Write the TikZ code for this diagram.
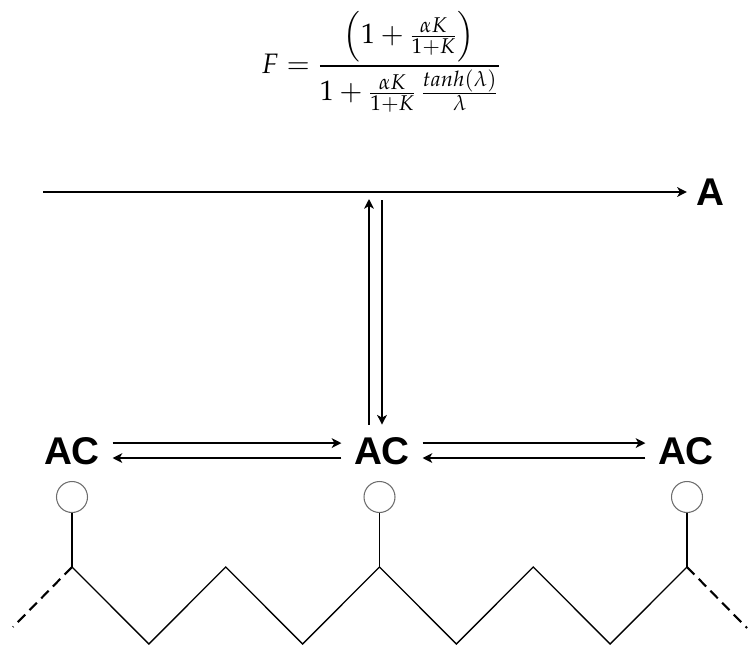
\documentclass[tikz,border=0pt]{standalone}
\usepackage{mathpazo}
\usepackage[no-math]{fontspec}
\newfontfamily\labelfont{Liberation Sans}
\usetikzlibrary{arrows.meta}

\begin{document}
\begin{tikzpicture}[x=0.02cm, y=-0.02cm,
    lbl/.style={font=\labelfont\bfseries\fontsize{22}{26}\selectfont, inner xsep=7pt, inner ysep=7pt},
    arr/.style={line width=1.1pt, -{Stealth[length=5.5pt, width=5.5pt, inset=1.5pt]}},
    site/.style={circle, draw=gray!85!black, line width=0.6pt, minimum size=0.62cm, inner sep=0pt},
    chain/.style={line width=0.75pt},
    tail/.style={line width=1.2pt, dash pattern=on 6pt off 3.5pt}
]
    \useasboundingbox (0,0) rectangle (748,646);

    % Enhancement factor
    \node[font=\fontsize{16}{19}\selectfont, inner sep=0pt] (eq) at (381,62)
        {$\displaystyle F = \frac{\left(1+\frac{\alpha K}{1+K}\right)}{1+\frac{\alpha K}{1+K}\,\frac{tanh(\lambda)}{\lambda}}$};

    % Bulk species and feed line
    \node[lbl, inner xsep=5pt] (a) at (710,192) {A};
    \coordinate (feed) at (43,192);
    \draw[arr] (feed) -- (a.west);

    % Adsorbed species
    \node[lbl] (ac1) at (72,451) {AC};
    \node[lbl] (ac2) at (382,451) {AC};
    \node[lbl] (ac3) at (686,451) {AC};

    % Adsorption / desorption
    \coordinate (up) at (369,199);
    \coordinate (dn) at (382,200);
    \draw[arr] (ac2.north -| up) -- (up);
    \draw[arr] (dn) -- (dn |- ac2.north);

    % Surface hopping
    \draw[arr] ([yshift=4.5pt]ac1.east) -- ([yshift=4.5pt]ac2.west);
    \draw[arr] ([yshift=-4pt]ac2.west) -- ([yshift=-4pt]ac1.east);
    \draw[arr] ([yshift=4.5pt]ac2.east) -- ([yshift=4.5pt]ac3.west);
    \draw[arr] ([yshift=-4pt]ac3.west) -- ([yshift=-4pt]ac2.east);

    % Sites
    \node[site] (s1) at (72,497) {};
    \node[site] (s2) at (379.5,497) {};
    \node[site] (s3) at (687,497) {};

    % Chain backbone
    \foreach \i in {0,...,8} {
        \pgfmathsetmacro\yy{mod(\i,2)==0 ? 567 : 644}
        \coordinate (v\i) at ({72+76.875*\i},\yy);
    }
    \draw[chain] (v0) \foreach \i in {1,...,8} {-- (v\i)};
    \draw[chain] (s1.south) -- (v0);
    \draw[chain] (s2.south) -- (v4);
    \draw[chain] (s3.south) -- (v8);

    % Chain continues
    \coordinate (endL) at (13,627);
    \coordinate (endR) at (747,628);
    \draw[tail] (v0) -- (endL);
    \draw[tail] (v8) -- (endR);
\end{tikzpicture}
\end{document}
